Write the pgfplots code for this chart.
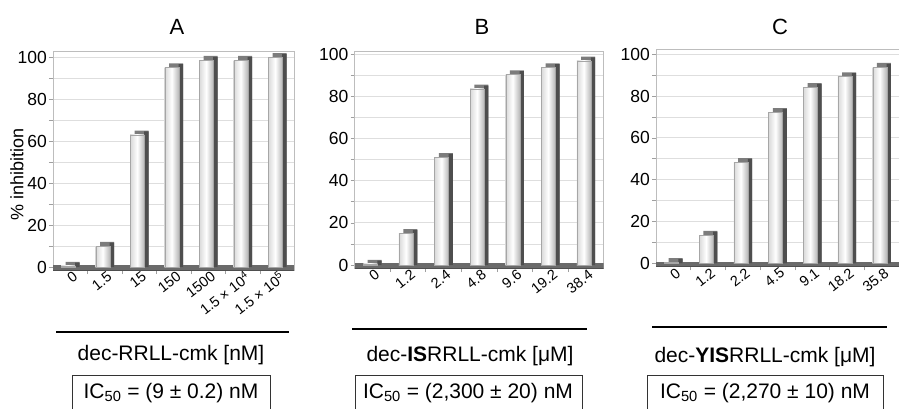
\documentclass[border=0pt]{standalone}
\usepackage{pgfplots}
\pgfplotsset{compat=1.18}
\usepackage{fontspec}
\setmainfont{Liberation Sans}
\definecolor{capc}{HTML}{7C7C7C}
\definecolor{sidec}{HTML}{4E4E4E}
\definecolor{floorc}{HTML}{6A6A6A}
\definecolor{gridc}{HTML}{DEDEDE}
\definecolor{framec}{HTML}{BDBDBD}
\pgfplotsset{
 panel/.style={
  scale only axis,
  ymin=-1.5,
  xmin=-0.5, xmax=6.5,
  xtick={0.5,1.5,...,5.5}, xticklabels={},
  extra x ticks={0,...,6},
  extra x tick style={major tick length=0pt, grid=none},
  ytick={0,20,...,100}, minor ytick={10,30,...,90},
  ymajorgrids, yminorgrids,
  grid style={draw=gridc, line width=0.8pt},
  minor grid style={draw=gridc, line width=0.8pt},
  tick align=outside,
  xtick pos=bottom, ytick pos=left,
  major tick length=4pt, minor tick length=4pt,
  tick style={draw=gray!75, line width=0.6pt},
  axis line style={draw=framec, line width=0.8pt},
  /pgf/number format/assume math mode=true,
  yticklabel style={font=\fontsize{17.5}{18}\selectfont, inner sep=2pt},
  xticklabel style={font=\fontsize{14.5}{15}\selectfont, xshift=6pt, yshift=-4pt, rotate=38, anchor=east, inner sep=1pt},
 },
 capbar/.style={ybar, bar width=14pt, bar shift=2.3pt, fill=capc, draw=none},
 sidebar/.style={ybar, bar width=4.3pt, bar shift=7.15pt, fill=sidec, draw=none},
 frontbar/.style={ybar, bar width=14pt, bar shift=-2pt, draw=gray!70, line width=0.3pt,
   left color=gray!30, right color=gray!55, middle color=white},
}
\newcommand{\floor}{%
  \fill[floorc] (axis cs:-0.5,-1.5) rectangle (axis cs:6.5,0.8);
  \draw[sidec, line width=1pt] (axis cs:-0.5,-1.5) -- (axis cs:6.5,-1.5);}
\begin{document}
\begin{tikzpicture}
\path[use as bounding box] (0pt,0pt) rectangle (899pt,408pt);

% ---------- Panel A ----------
\begin{axis}[panel, at={(53pt,137.85pt)}, anchor=south west, width=241.5pt, height=218.4pt, ymax=102.5,
  extra x tick labels={0,1.5,15,150,1500,1.5 × 10\textsuperscript{4},1.5 × 10\textsuperscript{5}}]
\floor
\addplot[capbar] coordinates {(0,2.5) (1,12) (2,65) (3,97) (4,100.5) (5,100.5) (6,101.8)};
\addplot[sidebar] coordinates {(0,2.1) (1,11.6) (2,64.6) (3,96.6) (4,100.1) (5,100.1) (6,101.4)};
\addplot[frontbar] coordinates {(0,0.5)};
\addplot[frontbar] coordinates {(1,10)};
\addplot[frontbar] coordinates {(2,63)};
\addplot[frontbar] coordinates {(3,95)};
\addplot[frontbar] coordinates {(4,98.5)};
\addplot[frontbar] coordinates {(5,98.5)};
\addplot[frontbar] coordinates {(6,99.8)};
\end{axis}

% ---------- Panel B ----------
\begin{axis}[panel, at={(354.6pt,139.8pt)}, anchor=south west, width=249pt, height=217.3pt, ymax=101.5,
  extra x tick labels={0,1.2,2.4,4.8,9.6,19.2,38.4}]
\floor
\addplot[capbar] coordinates {(0,2.5) (1,17) (2,53.1) (3,85.5) (4,92.3) (5,95.6) (6,98.8)};
\addplot[sidebar] coordinates {(0,2.1) (1,16.6) (2,52.7) (3,85.1) (4,91.9) (5,95.2) (6,98.4)};
\addplot[frontbar] coordinates {(0,0.5)};
\addplot[frontbar] coordinates {(1,15)};
\addplot[frontbar] coordinates {(2,51.1)};
\addplot[frontbar] coordinates {(3,83.5)};
\addplot[frontbar] coordinates {(4,90.3)};
\addplot[frontbar] coordinates {(5,93.6)};
\addplot[frontbar] coordinates {(6,96.8)};
\end{axis}

% ---------- Panel C ----------
\begin{axis}[panel, at={(656pt,141.6pt)}, anchor=south west, width=243pt, height=217.2pt, ymax=102.4,
  extra x tick labels={0,1.2,2.2,4.5,9.1,18.2,35.8}]
\floor
\addplot[capbar] coordinates {(0,2.5) (1,15.5) (2,50.3) (3,74.2) (4,86.2) (5,91.3) (6,95.8)};
\addplot[sidebar] coordinates {(0,2.1) (1,15.1) (2,49.9) (3,73.8) (4,85.8) (5,90.9) (6,95.4)};
\addplot[frontbar] coordinates {(0,0.5)};
\addplot[frontbar] coordinates {(1,13.5)};
\addplot[frontbar] coordinates {(2,48.3)};
\addplot[frontbar] coordinates {(3,72.2)};
\addplot[frontbar] coordinates {(4,84.2)};
\addplot[frontbar] coordinates {(5,89.3)};
\addplot[frontbar] coordinates {(6,93.8)};
\end{axis}

% ---------- titles and labels ----------
\begin{scope}[x=1pt,y=1pt]
\node[font=\fontsize{22}{22}\selectfont] at (177,381) {A};
\node[font=\fontsize{22}{22}\selectfont] at (482,381) {B};
\node[font=\fontsize{22}{22}\selectfont] at (780,381) {C};
\node[font=\fontsize{18}{18}\selectfont, rotate=90] at (17,234) {\% inhibition};

\draw[line width=2.6pt] (56,76) -- (289,76);
\draw[line width=2.6pt] (352,79) -- (587,79);
\draw[line width=2.6pt] (652,81) -- (887,81);

\node[font=\fontsize{21}{21}\selectfont] at (171,53) {dec-RRLL-cmk [nM]};
\node[font=\fontsize{21}{21}\selectfont] at (470,52) {dec-\textbf{IS}RRLL-cmk [μM]};
\node[font=\fontsize{21}{21}\selectfont] at (765,51) {dec-\textbf{YIS}RRLL-cmk [μM]};

\draw[gray!40!black, line width=1pt] (72,-5) rectangle (270,33);
\draw[gray!40!black, line width=1pt] (355,-5) rectangle (582,33);
\draw[gray!40!black, line width=1pt] (647,-5) rectangle (883,33);
\node[font=\fontsize{21}{21}\selectfont] at (171,15) {IC\textsubscript{50} = (9 ± 0.2) nM};
\node[font=\fontsize{21}{21}\selectfont] at (468,15) {IC\textsubscript{50} = (2,300 ± 20) nM};
\node[font=\fontsize{21}{21}\selectfont] at (765,15) {IC\textsubscript{50} = (2,270 ± 10) nM};
\end{scope}
\end{tikzpicture}
\end{document}
